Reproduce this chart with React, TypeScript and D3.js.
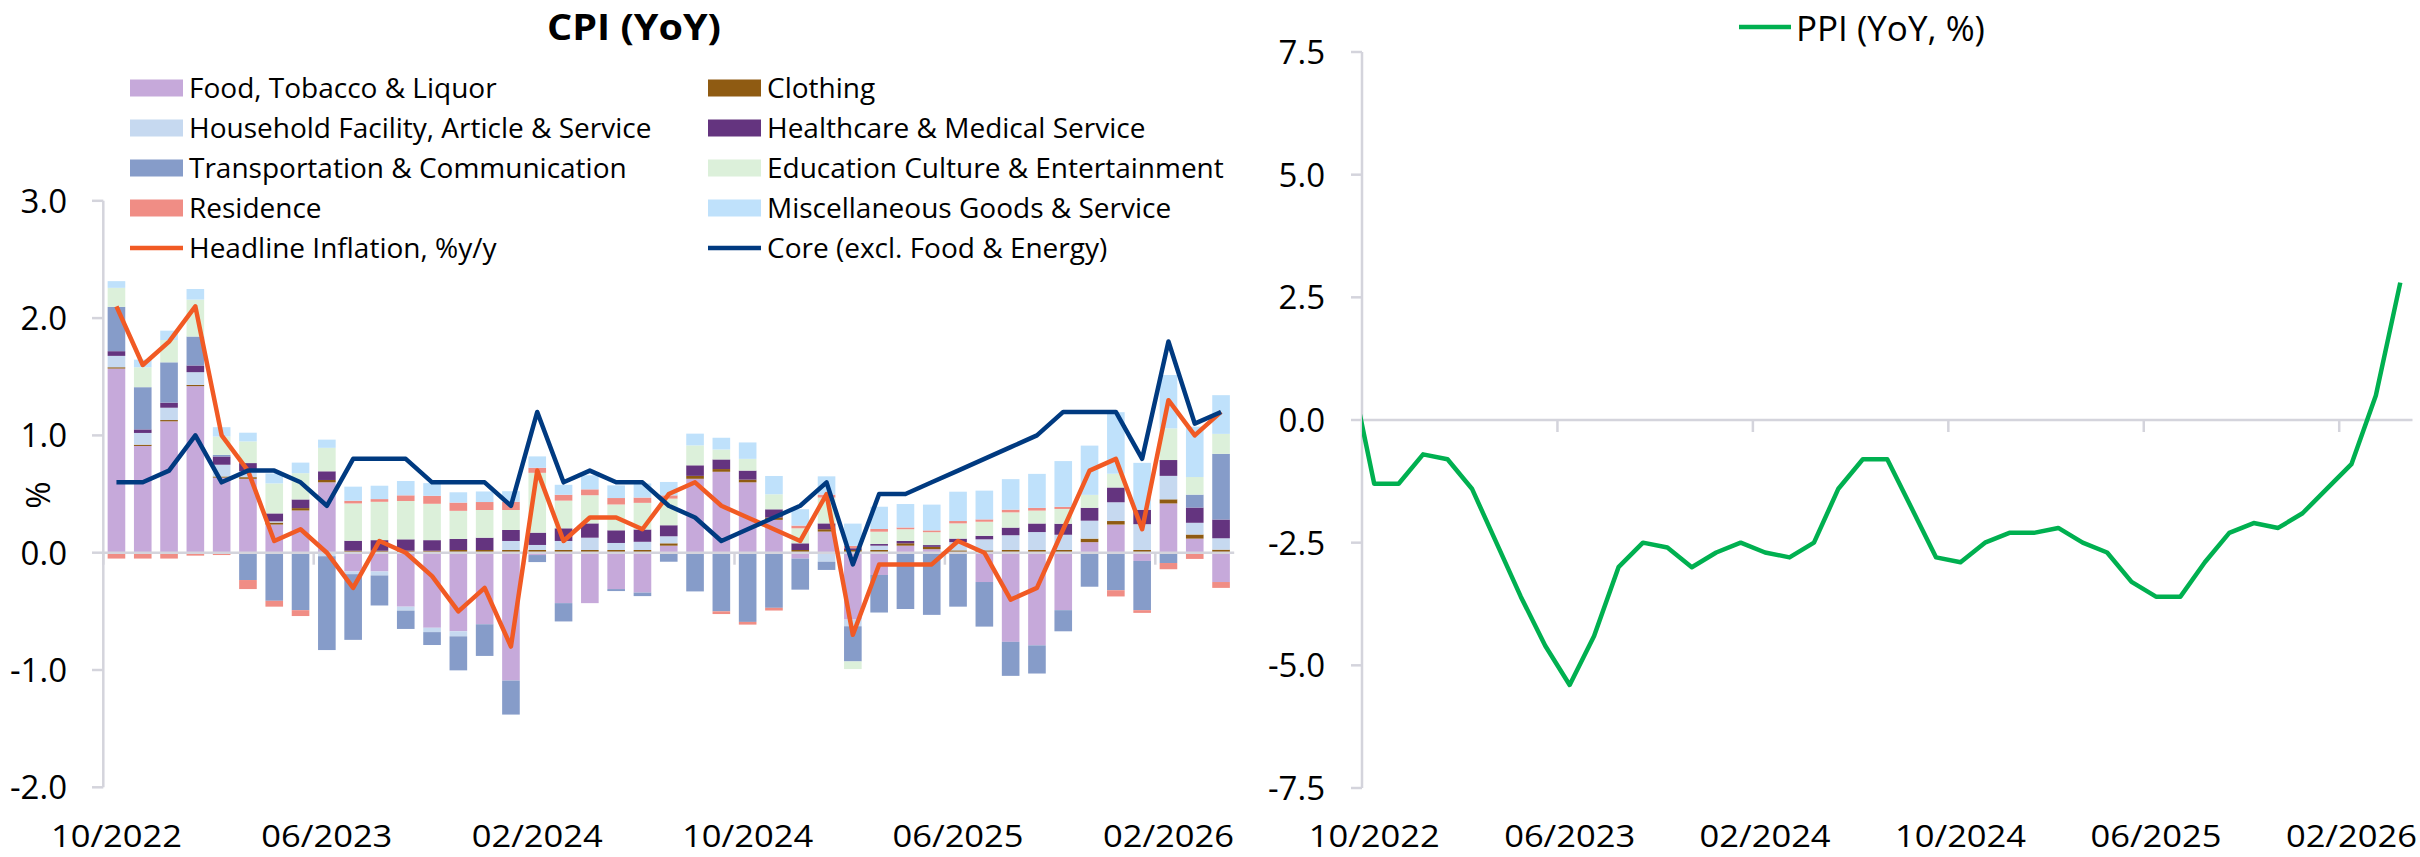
import { useMemo } from "react";
import * as d3 from "d3";

const W = 2420;
const H = 857;
const FONT = "'Open Sans', 'Noto Sans', sans-serif";
const AXIS = "#D4D4DC";

const MONTHS = [
  "10/2022", "11/2022", "12/2022", "01/2023", "02/2023", "03/2023", "04/2023", "05/2023",
  "06/2023", "07/2023", "08/2023", "09/2023", "10/2023", "11/2023", "12/2023", "01/2024",
  "02/2024", "03/2024", "04/2024", "05/2024", "06/2024", "07/2024", "08/2024", "09/2024",
  "10/2024", "11/2024", "12/2024", "01/2025", "02/2025", "03/2025", "04/2025", "05/2025",
  "06/2025", "07/2025", "08/2025", "09/2025", "10/2025", "11/2025", "12/2025", "01/2026",
  "02/2026", "03/2026", "04/2026",
];

// contributions to CPI yoy, percentage points
const FOOD = [
  1.57, 0.91, 1.12, 1.42, 0.64, 0.63, 0.24, 0.36, 0.6, -0.16, -0.16, -0.46, -0.64, -0.67, -0.61,
  -1.09, -0.02, -0.43, -0.43, -0.31, -0.34, 0.06, 0.63, 0.69, 0.6, 0.28, -0.05, 0.18, -0.57, -0.19,
  0.06, 0.03, 0.0, -0.25, -0.76, -0.79, -0.49, 0.09, 0.24, -0.07, 0.42, 0.12, -0.25,
];
const CLOTHING = [
  0.011, 0.011, 0.011, 0.011, 0.01, 0.014, 0.017, 0.02, 0.02, 0.017, 0.017, 0.017, 0.017, 0.023,
  0.023, 0.023, 0.023, 0.023, 0.023, 0.023, 0.023, 0.02, 0.025, 0.023, 0.023, 0.02, 0.023, 0.02,
  0.023, 0.023, 0.02, 0.02, 0.02, 0.02, 0.023, 0.023, 0.023, 0.03, 0.03, 0.023, 0.035, 0.035, 0.026,
];
const HOUSEHOLD = [
  0.097, 0.1, 0.105, 0.108, 0.1, 0.05, 0.01, 0, -0.03, -0.023, -0.034, -0.034, -0.037, -0.043, 0,
  0.077, 0.043, 0.077, 0.105, 0.06, 0.07, 0.06, 0, 0, 0, 0, 0, -0.077, -0.057, 0.037, 0, 0, 0.07,
  0.094, 0.126, 0.153, 0.13, 0.153, 0.16, 0.22, 0.2, 0.1, 0.097,
];
const HEALTHCARE = [
  0.04, 0.03, 0.043, 0.057, 0.07, 0.07, 0.068, 0.074, 0.074, 0.085, 0.09, 0.097, 0.09, 0.094, 0.105,
  0.094, 0.105, 0.108, 0.122, 0.108, 0.105, 0.094, 0.09, 0.082, 0.077, 0.07, 0.057, 0.05, 0.015,
  0.014, 0.02, 0.015, 0.03, 0.03, 0.065, 0.073, 0.094, 0.11, 0.126, 0.123, 0.135, 0.13, 0.16,
];
const TRANSPORT = [
  0.378, 0.36, 0.344, 0.247, 0.014, -0.233, -0.41, -0.49, -0.8, -0.56, -0.256, -0.156, -0.11, -0.29,
  -0.27, -0.29, -0.06, -0.156, 0, -0.017, -0.03, -0.077, -0.33, -0.5, -0.59, -0.47, -0.265, -0.07,
  -0.3, -0.32, -0.48, -0.53, -0.46, -0.38, -0.29, -0.24, -0.18, -0.29, -0.32, -0.42, -0.088, 0.11, 0.56,
];
const EDUCATION = [
  0.162, 0.17, 0.19, 0.315, 0.156, 0.185, 0.256, 0.224, 0.2, 0.318, 0.327, 0.327, 0.31, 0.24, 0.236,
  0.17, 0.51, 0.236, 0.24, 0.22, 0.227, 0.227, 0.17, 0.085, 0.1, 0.128, 0.128, 0.22, -0.065, 0.105,
  0.1, 0.11, 0.13, 0.12, 0.13, 0.11, 0.126, 0.11, 0.117, 0, 0.27, 0.15, 0.17,
];
const RESIDENCE = [
  -0.05, -0.05, -0.05, -0.025, -0.02, -0.077, -0.05, -0.05, 0, 0.023, 0.023, 0.048, 0.068, 0.07,
  0.068, 0.07, 0.043, 0.05, 0.05, 0.055, 0.045, 0.028, 0, -0.023, -0.023, -0.023, 0.023, 0.025,
  0.02, 0.023, 0.015, 0.015, 0.02, 0.02, 0.023, 0.023, 0.018, 0, -0.053, -0.023, -0.053, -0.053, -0.05,
];
const MISC = [
  0.057, 0.065, 0.08, 0.09, 0.08, 0.074, 0.085, 0.09, 0.07, 0.12, 0.114, 0.122, 0.108, 0.088, 0.09,
  0.09, 0.097, 0.085, 0.12, 0.108, 0.12, 0.114, 0.1, 0.1, 0.14, 0.156, 0.14, 0.156, 0.19, 0.19, 0.2,
  0.22, 0.25, 0.245, 0.26, 0.29, 0.39, 0.42, 0.525, 0.4, 0.455, 0.43, 0.33,
];

const HEADLINE = [
  2.1, 1.6, 1.8, 2.1, 1.0, 0.7, 0.1, 0.2, 0.0, -0.3, 0.1, 0.0, -0.2, -0.5, -0.3, -0.8, 0.7, 0.1, 0.3,
  0.3, 0.2, 0.5, 0.6, 0.4, 0.3, 0.2, 0.1, 0.5, -0.7, -0.1, -0.1, -0.1, 0.1, 0.0, -0.4, -0.3, 0.2, 0.7,
  0.8, 0.2, 1.3, 1.0, 1.2,
];
const CORE = [
  0.6, 0.6, 0.7, 1.0, 0.6, 0.7, 0.7, 0.6, 0.4, 0.8, 0.8, 0.8, 0.6, 0.6, 0.6, 0.4, 1.2, 0.6, 0.7, 0.6,
  0.6, 0.4, 0.3, 0.1, 0.2, 0.3, 0.4, 0.6, -0.1, 0.5, 0.5, 0.6, 0.7, 0.8, 0.9, 1.0, 1.2, 1.2, 1.2, 0.8,
  1.8, 1.1, 1.2,
];

// PPI starts one month before the axis (09/2022); that point falls outside the plot and is clipped
const PPI = [
  1.1, -1.3, -1.3, -0.7, -0.8, -1.4, -2.5, -3.6, -4.6, -5.4, -4.4, -3.0, -2.5, -2.6, -3.0, -2.7, -2.5,
  -2.7, -2.8, -2.5, -1.4, -0.8, -0.8, -1.8, -2.8, -2.9, -2.5, -2.3, -2.3, -2.2, -2.5, -2.7, -3.3, -3.6,
  -3.6, -2.9, -2.3, -2.1, -2.2, -1.9, -1.4, -0.9, 0.5, 2.8,
];

const CPI_TICKS = [-2, -1, 0, 1, 2, 3];
const PPI_TICKS = [-7.5, -5, -2.5, 0, 2.5, 5, 7.5];

const SERIES = [
  { name: "Food, Tobacco & Liquor", values: FOOD, color: "#C6A9DA" },
  { name: "Clothing", values: CLOTHING, color: "#8F5B12" },
  { name: "Household Facility, Article & Service", values: HOUSEHOLD, color: "#C6D9F0" },
  { name: "Healthcare & Medical Service", values: HEALTHCARE, color: "#64347F" },
  { name: "Transportation & Communication", values: TRANSPORT, color: "#869CC9" },
  { name: "Education Culture & Entertainment", values: EDUCATION, color: "#DCF0DA" },
  { name: "Residence", values: RESIDENCE, color: "#F08D85" },
  { name: "Miscellaneous Goods & Service", values: MISC, color: "#BFE1FB" },
];

const ORANGE = "#F15A24";
const NAVY = "#003A80";
const GREEN = "#00B050";

const CPI_BOX = { left: 103.3, right: 1234.2, top: 200.8, bottom: 787.3 };
const PPI_BOX = { left: 1362, right: 2412.5, top: 52, bottom: 788 };

export default function App() {
  const cpiX = useMemo(
    () => d3.scaleBand<string>().domain(MONTHS).range([CPI_BOX.left, CPI_BOX.right]),
    []
  );
  const barX = useMemo(
    () =>
      d3
        .scaleBand<string>()
        .domain(MONTHS)
        .range([CPI_BOX.left, CPI_BOX.right])
        .paddingInner(0.33)
        .paddingOuter(0.165),
    []
  );
  const cpiY = useMemo(
    () => d3.scaleLinear().domain([-2, 3]).range([CPI_BOX.bottom, CPI_BOX.top]),
    []
  );
  const ppiX = useMemo(
    () =>
      d3
        .scaleLinear()
        .domain([-0.5, MONTHS.length - 0.5])
        .range([PPI_BOX.left, PPI_BOX.right]),
    []
  );
  const ppiY = useMemo(
    () => d3.scaleLinear().domain([-7.5, 7.5]).range([PPI_BOX.bottom, PPI_BOX.top]),
    []
  );

  const stacked = useMemo(() => {
    const rows = MONTHS.map((m, i) => {
      const r: Record<string, number | string> = { month: m };
      SERIES.forEach((s) => (r[s.name] = s.values[i]));
      return r;
    });
    return d3
      .stack<Record<string, number | string>>()
      .keys(SERIES.map((s) => s.name))
      .offset(d3.stackOffsetDiverging)(rows as any);
  }, []);

  const mid = (m: string) => (cpiX(m) ?? 0) + cpiX.bandwidth() / 2;
  const cpiLine = d3
    .line<number>()
    .x((_, i) => mid(MONTHS[i]))
    .y((v) => cpiY(v));
  const ppiLine = d3
    .line<number>()
    .x((_, i) => ppiX(i - 1))
    .y((v) => ppiY(v));

  const labelled = MONTHS.map((m, i) => ({ m, i })).filter((d) => d.i % 8 === 0);

  const legend = [
    ...SERIES.map((s) => ({ name: s.name, color: s.color, line: false })),
    { name: "Headline Inflation, %y/y", color: ORANGE, line: true },
    { name: "Core (excl. Food & Energy)", color: NAVY, line: true },
  ];

  return (
    <svg
      width={W}
      height={H}
      viewBox={`0 0 ${W} ${H}`}
      style={{ position: "absolute", left: 0, top: 0, display: "block", background: "#fff" }}
      fontFamily={FONT}
    >
      <defs>
        <clipPath id="ppi-clip">
          <rect x={PPI_BOX.left} y={0} width={PPI_BOX.right - PPI_BOX.left} height={H} />
        </clipPath>
      </defs>

      {/* CPI panel */}
      <text
        x={634}
        y={40}
        textAnchor="middle"
        fontSize={36}
        fontWeight={700}
        fill="#000"
        textLength={174}
        lengthAdjust="spacingAndGlyphs"
      >
        CPI (YoY)
      </text>

      {legend.map((d, i) => {
        const col = i % 2;
        const row = Math.floor(i / 2);
        const sx = col === 0 ? 130 : 708;
        const cy = 88 + row * 40;
        return (
          <g key={d.name}>
            {d.line ? (
              <line x1={sx} x2={sx + 53} y1={cy} y2={cy} stroke={d.color} strokeWidth={4.5} />
            ) : (
              <rect x={sx} y={cy - 8.5} width={53} height={17} fill={d.color} />
            )}
            <text x={sx + 59} y={cy + 9.5} fontSize={28} fill="#000">
              {d.name}
            </text>
          </g>
        );
      })}

      {stacked.map((layer, si) => (
        <g key={layer.key} fill={SERIES[si].color}>
          {layer.map((d, i) => {
            const y0 = cpiY(d[0]);
            const y1 = cpiY(d[1]);
            const h = Math.abs(y0 - y1);
            if (h < 0.01) return null;
            return (
              <rect
                key={i}
                x={barX(MONTHS[i])}
                y={Math.min(y0, y1)}
                width={barX.bandwidth()}
                height={h}
              />
            );
          })}
        </g>
      ))}

      <line x1={CPI_BOX.left} x2={CPI_BOX.left} y1={CPI_BOX.top} y2={CPI_BOX.bottom} stroke={AXIS} strokeWidth={2.5} />
      {CPI_TICKS.map((t) => (
        <g key={t}>
          <line x1={92} x2={CPI_BOX.left} y1={cpiY(t)} y2={cpiY(t)} stroke={AXIS} strokeWidth={2.5} />
          <text x={67} y={cpiY(t) + 12} textAnchor="end" fontSize={33} fill="#000">
            {t.toFixed(1)}
          </text>
        </g>
      ))}
      <line x1={CPI_BOX.left} x2={CPI_BOX.right} y1={cpiY(0)} y2={cpiY(0)} stroke={AXIS} strokeWidth={2.5} />
      {labelled.map(({ m }) => (
        <g key={m}>
          <line x1={cpiX(m)} x2={cpiX(m)} y1={cpiY(0)} y2={cpiY(0) + 12} stroke={AXIS} strokeWidth={2.5} />
          <text
            x={mid(m)}
            y={847}
            textAnchor="middle"
            fontSize={31}
            fill="#000"
            textLength={131}
            lengthAdjust="spacingAndGlyphs"
          >
            {m}
          </text>
        </g>
      ))}
      <text transform="translate(50,495) rotate(-90)" textAnchor="middle" fontSize={33} fill="#000">
        %
      </text>

      <path d={cpiLine(HEADLINE) ?? ""} fill="none" stroke={ORANGE} strokeWidth={4.5} strokeLinejoin="round" />
      <path d={cpiLine(CORE) ?? ""} fill="none" stroke={NAVY} strokeWidth={4.5} strokeLinejoin="round" />

      {/* PPI panel */}
      <line x1={1739} x2={1791} y1={27} y2={27} stroke={GREEN} strokeWidth={4.5} />
      <text x={1796} y={41} fontSize={35} fill="#000">
        PPI (YoY, %)
      </text>

      <line x1={PPI_BOX.left} x2={PPI_BOX.left} y1={PPI_BOX.top} y2={PPI_BOX.bottom} stroke={AXIS} strokeWidth={2.5} />
      {PPI_TICKS.map((t) => (
        <g key={t}>
          <line x1={1351} x2={PPI_BOX.left} y1={ppiY(t)} y2={ppiY(t)} stroke={AXIS} strokeWidth={2.5} />
          <text x={1325} y={ppiY(t) + 12} textAnchor="end" fontSize={33} fill="#000">
            {t.toFixed(1)}
          </text>
        </g>
      ))}
      <line x1={PPI_BOX.left} x2={PPI_BOX.right} y1={ppiY(0)} y2={ppiY(0)} stroke={AXIS} strokeWidth={2.5} />
      {labelled.map(({ m, i }) => (
        <g key={m}>
          <line x1={ppiX(i - 0.5)} x2={ppiX(i - 0.5)} y1={ppiY(0)} y2={ppiY(0) + 12} stroke={AXIS} strokeWidth={2.5} />
          <text
            x={ppiX(i)}
            y={847}
            textAnchor="middle"
            fontSize={31}
            fill="#000"
            textLength={131}
            lengthAdjust="spacingAndGlyphs"
          >
            {m}
          </text>
        </g>
      ))}
      <path
        d={ppiLine(PPI) ?? ""}
        fill="none"
        stroke={GREEN}
        strokeWidth={4.5}
        strokeLinejoin="round"
        clipPath="url(#ppi-clip)"
      />
    </svg>
  );
}
